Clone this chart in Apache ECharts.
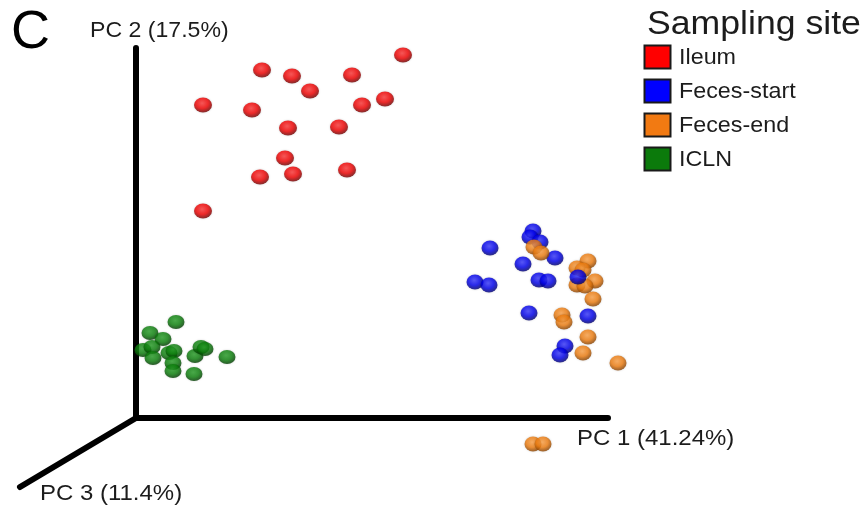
<!DOCTYPE html>
<html>
<head>
<meta charset="utf-8">
<script src="https://cdn.jsdelivr.net/npm/echarts@6/dist/echarts.min.js"></script>
<style>
  html, body { margin: 0; padding: 0; background: #fff; }
  #chart { width: 868px; height: 509px; }
</style>
</head>
<body>
<div id="chart"></div>
<script>
// PCoA scores, projected onto the PC1 / PC2 plane (origin = axis corner)
const ileum = [
  [0.267, 0.363], [0.126, 0.348], [0.156, 0.342], [0.216, 0.343], [0.174, 0.327],
  [0.067, 0.313], [0.116, 0.308], [0.226, 0.313], [0.249, 0.319], [0.152, 0.290],
  [0.203, 0.291], [0.149, 0.260], [0.124, 0.241], [0.157, 0.244], [0.211, 0.248],
  [0.067, 0.207]
];
const fecesStart = [
  [0.397, 0.187], [0.394, 0.181], [0.404, 0.176], [0.354, 0.170], [0.419, 0.160],
  [0.387, 0.154], [0.339, 0.136], [0.353, 0.133], [0.403, 0.138], [0.412, 0.137],
  [0.393, 0.105], [0.452, 0.102], [0.429, 0.072], [0.424, 0.063]
];
// Feces-start sample that sits in front of the Feces-end cluster
const fecesStartFront = [[0.442, 0.141]];
const fecesEnd = [
  [0.398, 0.171], [0.405, 0.165], [0.452, 0.157], [0.441, 0.150], [0.447, 0.148],
  [0.459, 0.137], [0.441, 0.133], [0.449, 0.132], [0.457, 0.119], [0.426, 0.103],
  [0.428, 0.096], [0.452, 0.081], [0.447, 0.065], [0.482, 0.055],
  [0.397, -0.026], [0.407, -0.026]
];
const icln = [
  [0.040, 0.096], [0.014, 0.085], [0.027, 0.079], [0.007, 0.068], [0.016, 0.071],
  [0.017, 0.060], [0.033, 0.065], [0.038, 0.067], [0.037, 0.055], [0.037, 0.047],
  [0.059, 0.062], [0.065, 0.071], [0.069, 0.069], [0.091, 0.061], [0.058, 0.044]
];

const groups = ['Ileum', 'Feces-start', 'Feces-end', 'ICLN'];
const groupColors = ['#ff0000', '#0000ff', '#f27a12', '#0b7a0b'];
const legendTitle = 'Sampling site';
const panelLetter = 'C';

// Axis frame: PC2 up, PC1 right, PC3 receding down-left
const axisPC12 = [[0, 0.370], [0, 0], [0.472, 0]];
const axisPC3 = [[0, 0], [-0.116, -0.069]];

const axisTitles = ['PC 1 (41.24%)', 'PC 2 (17.5%)', 'PC 3 (11.4%)'];

const FONT = 'Liberation Sans, Arial, sans-serif';
const TEXT_COLOR = '#1c1c1c';
const WIDEN = 1.08; // lettering is drawn slightly wide

function ball(light, mid, dark) {
  return new echarts.graphic.RadialGradient(0.45, 0.38, 0.62, [
    { offset: 0, color: light },
    { offset: 0.55, color: mid },
    { offset: 1, color: dark }
  ]);
}

const shades = {
  'Ileum': ball('#ff3a3a', '#f50000', '#700000'),
  'Feces-start': ball('#3a3aff', '#0000f0', '#000070'),
  'Feces-end': ball('#ffa449', '#f27f10', '#8a4200'),
  'ICLN': ball('#28a028', '#0c820c', '#003c00')
};

const sizes = {
  'Ileum': [18, 15],
  'Feces-start': [17, 15],
  'Feces-end': [17, 15],
  'ICLN': [17, 14]
};

function pointSeries(name, data) {
  return {
    name: name,
    type: 'scatter',
    data: data,
    symbol: 'circle',
    symbolSize: sizes[name],
    clip: false,
    itemStyle: {
      color: shades[name],
      shadowColor: 'rgba(0,0,0,0.25)',
      shadowBlur: 2
    },
    emphasis: { disabled: true }
  };
}

function axisSeries(data) {
  return {
    type: 'line',
    data: data,
    symbol: 'none',
    silent: true,
    clip: false,
    lineStyle: { color: '#000', width: 6, cap: 'round', join: 'miter' },
    z: 1
  };
}

function label(text, x, y, size, extra) {
  return Object.assign({
    type: 'text',
    x: x,
    y: y,
    scaleX: WIDEN,
    silent: true,
    style: { text: text, fontSize: size, fill: TEXT_COLOR, fontFamily: FONT }
  }, extra || {});
}

// Legend: swatch + name per sampling site
const legendItems = [];
groups.forEach((g, i) => {
  const cy = 57.5 + i * 34;
  legendItems.push({
    type: 'rect',
    silent: true,
    shape: { x: 644.5, y: cy - 12, width: 26, height: 23 },
    style: { fill: groupColors[i], stroke: '#1a1a1a', lineWidth: 2 }
  });
  legendItems.push(label(g, 679, cy, 22, {
    scaleX: 1.06,
    style: { text: g, fontSize: 22, fill: TEXT_COLOR, fontFamily: FONT, textVerticalAlign: 'middle' }
  }));
});

const chart = echarts.init(document.getElementById('chart'), null, { renderer: 'canvas' });

chart.setOption({
  animation: false,
  backgroundColor: '#fff',
  grid: { left: 0, right: 0, top: 0, bottom: 0, containLabel: false },
  xAxis: { type: 'value', min: -0.136, max: 0.732, show: false },
  yAxis: { type: 'value', min: -0.091, max: 0.418, show: false },
  graphic: [
    label(panelLetter, 11, 6, 54, { scaleX: 1, style: { text: panelLetter, fontSize: 54, fill: '#000', fontFamily: FONT } }),
    label(axisTitles[1], 90, 20, 22, { scaleX: 1.05 }),
    label(axisTitles[0], 577, 428, 22, { scaleX: 1.09 }),
    label(axisTitles[2], 40, 483, 22, { scaleX: 1.09 }),
    label(legendTitle, 647, 8, 33, { scaleX: 1.08, style: { text: legendTitle, fontSize: 33, fill: TEXT_COLOR, fontFamily: FONT } })
  ].concat(legendItems),
  series: [
    axisSeries(axisPC12),
    axisSeries(axisPC3),
    pointSeries('Ileum', ileum),
    pointSeries('ICLN', icln),
    pointSeries('Feces-start', fecesStart),
    pointSeries('Feces-end', fecesEnd),
    pointSeries('Feces-start', fecesStartFront)
  ]
});
</script>
</body>
</html>
